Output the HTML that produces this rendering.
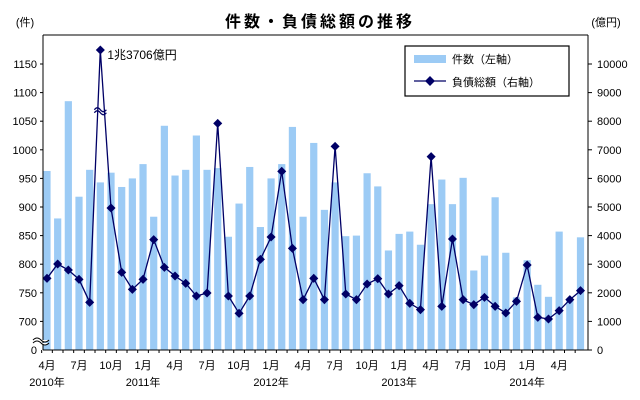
<!DOCTYPE html>
<html><head><meta charset="utf-8"><style>
body{margin:0;background:#fff;}
svg{display:block;font-family:"Liberation Sans","Noto Sans CJK JP",sans-serif;}
</style></head><body>
<svg id="chart" width="640" height="400" viewBox="0 0 640 400">
<text x="320" y="27" text-anchor="middle" font-size="16" font-weight="bold" fill="#000" letter-spacing="3">件数・負債総額の推移</text>
<text x="25" y="26" text-anchor="middle" font-size="11" fill="#000">(件)</text>
<text x="606" y="26" text-anchor="middle" font-size="11" fill="#000">(億円)</text>
<g id="bars"></g><g id="line"></g><g id="axes"></g>
<g>
<rect x="405" y="46" width="164" height="50" fill="#fff" stroke="#000" stroke-width="1.2"/>
<rect x="414" y="55" width="32" height="8" fill="#9ccbf5"/>
<text x="452" y="63" font-size="11" fill="#000">件数（左軸）</text>
<line x1="414" y1="81" x2="446" y2="81" stroke="#000066" stroke-width="1.3"/>
<rect x="426.5" y="77.5" width="7" height="7" fill="#000066" transform="rotate(45 430 81)"/>
<text x="452" y="86" font-size="11" fill="#000">負債総額（右軸）</text>
</g>
</svg>
<script>
const months=["4月","5月","6月","7月","8月","9月","10月","11月","12月","1月","2月","3月","4月","5月","6月","7月","8月","9月","10月","11月","12月","1月","2月","3月","4月","5月","6月","7月","8月","9月","10月","11月","12月","1月","2月","3月","4月","5月","6月","7月","8月","9月","10月","11月","12月","1月","2月","3月","4月","5月","6月"];
const counts=[963,880,1085,918,965,943,960,935,950,975,883,1042,955,965,1025,965,968,848,906,970,865,950,975,1040,883,1012,895,943,849,850,959,936,824,853,857,834,905,948,905,951,789,815,917,820,742,807,764,743,857,737,847];
const debts=[2506,3007,2797,2471,1667,13706,4965,2716,2121,2471,3858,2890,2587,2331,1888,1993,7925,1888,1282,1888,3170,3951,6247,3555,1760,2506,1760,7121,1958,1760,2308,2494,1958,2249,1632,1410,6760,1527,3881,1760,1585,1841,1527,1294,1702,2972,1142,1084,1375,1760,2075];
const leftTicks=[700,750,800,850,900,950,1000,1050,1100,1150];
const rightTicks=[0,1000,2000,3000,4000,5000,6000,7000,8000,9000,10000];
const yearLabels=["2010年","2011年","2012年","2013年","2014年"];
const yearStart=[0,9,21,33,45];
const NS="http://www.w3.org/2000/svg";
const X0=47,DX=10.67,Y0=350,PPU=0.0286;
const xS=i=>X0+DX*i;
const yR=v=>Y0-Math.min(v,10490)*PPU;
const yL=v=>yR((v-650)*20);
function mk(t,a,p){const e=document.createElementNS(NS,t);for(const k in a)e.setAttribute(k,a[k]);p.appendChild(e);return e;}
const gb=document.getElementById('bars'),gl=document.getElementById('line'),ga=document.getElementById('axes');
counts.forEach((c,i)=>{const y=yL(c);
const r=mk('rect',{x:xS(i)-3.6,y:y,width:7.2,height:Y0-y,fill:'#9ccbf5'},gb);

});
const pts=debts.map((d,i)=>xS(i).toFixed(1)+','+yR(d).toFixed(1)).join(' ');
const pl=mk('polyline',{points:pts,fill:'none',stroke:'#000066','stroke-width':1.3},gl);


debts.forEach((d,i)=>{const x=xS(i),y=yR(d);
const m=mk('rect',{x:x-3.2,y:y-3.2,width:6.4,height:6.4,fill:'#000066',transform:`rotate(45 ${x} ${y})`},gl);

});
// peak annotation
const pk=debts.indexOf(Math.max(...debts));
const an=mk('text',{x:xS(pk)+7,y:yR(debts[pk])+9,'font-size':12,fill:'#000'},gl);an.textContent='1兆3706億円';


const br=mk('path',{d:`M${xS(pk)-6},${yR(8400)} q3,-4 6,0 t6,0 M${xS(pk)-6},${yR(8400)+3} q3,-4 6,0 t6,0`,fill:'none',stroke:'#000066','stroke-width':1.2},gl);


// axes
mk('line',{x1:43,y1:35,x2:588,y2:35,stroke:'#000','stroke-width':1},ga);
mk('line',{x1:43,y1:35,x2:43,y2:Y0,stroke:'#000','stroke-width':1},ga);
mk('line',{x1:588,y1:35,x2:588,y2:Y0,stroke:'#000','stroke-width':1},ga);
mk('line',{x1:43,y1:Y0,x2:588,y2:Y0,stroke:'#000','stroke-width':1},ga);
leftTicks.forEach(v=>{const y=yL(v);mk('line',{x1:40,y1:y,x2:43,y2:y,stroke:'#000'},ga);
const t=mk('text',{x:37,y:y+4,'text-anchor':'end','font-size':11,fill:'#000'},ga);t.textContent=v;

});
{const t=mk('text',{x:37,y:Y0+4,'text-anchor':'end','font-size':11,fill:'#000'},ga);t.textContent='0';

}
mk('path',{d:'M33,340 q4,-4 8,0 t8,0 M33,343 q4,-4 8,0 t8,0',fill:'#fff',stroke:'#000','stroke-width':1},ga);
rightTicks.forEach(v=>{const y=yR(v);mk('line',{x1:588,y1:y,x2:592,y2:y,stroke:'#000'},ga);
const t=mk('text',{x:597,y:y+4,'font-size':11,fill:'#000'},ga);t.textContent=v;

});
months.forEach((m,i)=>{mk('line',{x1:xS(i)-DX/2,y1:Y0,x2:xS(i)-DX/2,y2:Y0+3,stroke:'#000'},ga);
if(i%3===0){const t=mk('text',{x:xS(i),y:Y0+19,'text-anchor':'middle','font-size':11,fill:'#000'},ga);t.textContent=m;

}});
yearLabels.forEach((y,k)=>{const t=mk('text',{x:xS(yearStart[k]),y:Y0+36,'text-anchor':'middle','font-size':11,fill:'#000'},ga);t.textContent=y;

});
</script>
</body></html>
